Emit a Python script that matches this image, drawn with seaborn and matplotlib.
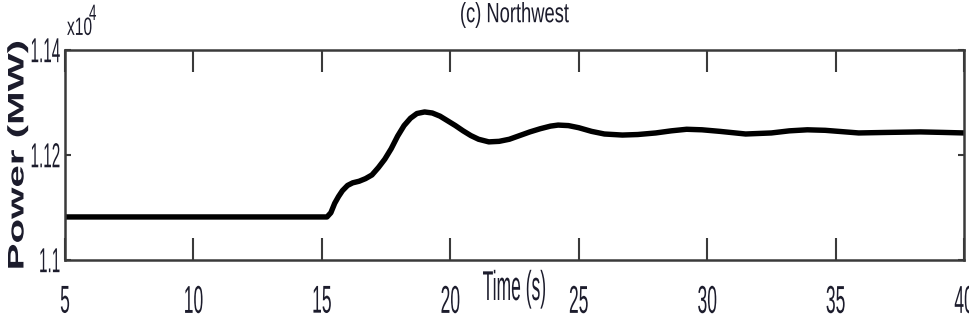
import matplotlib
matplotlib.use("Agg")
import matplotlib.pyplot as plt
from matplotlib.patheffects import AbstractPathEffect
from matplotlib.transforms import Affine2D
import numpy as np
import seaborn as sns

# Northwest area tie-line power after the disturbance (MW)
time_s = [5.0, 15.2, 15.35, 15.5, 15.65, 15.8, 16.0, 16.2, 16.45, 16.7, 16.95,
          17.2, 17.45, 17.7, 17.95, 18.2, 18.45, 18.7, 19.0, 19.3, 19.6, 19.9,
          20.2, 20.5, 20.8, 21.1, 21.5, 21.9, 22.3, 22.7, 23.1, 23.5, 23.9,
          24.2, 24.6, 25.0, 25.5, 26.0, 26.7, 27.3, 28.0, 28.6, 29.2, 29.8,
          30.5, 31.5, 32.5, 33.2, 33.9, 34.6, 35.9, 37.0, 38.3, 39.2, 40.0]
power_mw = [11082, 11082, 11090, 11108, 11121, 11132, 11142, 11147, 11150,
            11155, 11162, 11176, 11192, 11212, 11236, 11256, 11270, 11279,
            11282, 11280, 11274, 11265, 11256, 11246, 11237, 11230, 11225,
            11226, 11230, 11237, 11244, 11250, 11255, 11257, 11256, 11252,
            11245, 11240, 11238, 11239, 11242, 11246, 11249, 11248, 11245,
            11240, 11242, 11246, 11248, 11247, 11242, 11243, 11244, 11243,
            11242]

x_ticks = [5, 10, 15, 20, 25, 30, 35, 40]
x_tick_labels = ["5", "10", "15", "20", "25", "30", "35", "40"]
y_ticks = [1.10, 1.12, 1.14]
y_tick_labels = ["1.1", "1.12", "1.14"]

title_text = "(c) Northwest"
x_label = "Time (s)"
y_label = "Power (MW)"
scale_text = "x10"
scale_exp = "4"

TEXT_COLOR = "#1c1c2c"
AXIS_COLOR = "#3a3a3a"


class Stretch(AbstractPathEffect):
    """Stretch glyphs vertically (tall, condensed lettering) about an ink anchor.

    ax, ay give the fixed point as a fraction of the ink box (0 = left/bottom).
    """

    def __init__(self, sy, ay=0.5, sx=1.0, ax=0.5):
        super().__init__()
        self.sx, self.sy = sx, sy
        self.ax, self.ay = ax, ay

    def draw_path(self, renderer, gc, tpath, affine, rgbFace=None):
        ext = tpath.get_extents(affine)
        cx = ext.x0 + self.ax * (ext.x1 - ext.x0)
        cy = ext.y0 + self.ay * (ext.y1 - ext.y0)
        tr = (Affine2D().translate(-cx, -cy)
              .scale(self.sx, self.sy).translate(cx, cy))
        renderer.draw_path(gc, tpath, affine + tr, rgbFace)


sns.set_style("white")
plt.rcParams["font.family"] = ["Liberation Sans", "DejaVu Sans"]

fig = plt.figure(figsize=(9.7, 3.33), dpi=100)
ax = fig.add_axes([65 / 970, 1 - 260 / 333, 899 / 970, 210 / 333])

t = np.asarray(time_s)
p = np.asarray(power_mw) / 1e4
sns.lineplot(x=t, y=p, ax=ax, color="black", linewidth=3.9, estimator=None,
             sort=False)

ax.set_xlim(5, 40)
ax.set_ylim(1.10, 1.14)
ax.set_xticks(x_ticks, x_tick_labels)
ax.set_yticks(y_ticks, y_tick_labels)

for side in ["left", "right", "top", "bottom"]:
    ax.spines[side].set_visible(True)
    ax.spines[side].set_color(AXIS_COLOR)
    ax.spines[side].set_linewidth(1.8)

ax.tick_params(axis="x", direction="in", length=16, width=1.5, colors=AXIS_COLOR,
               top=True, bottom=True, pad=18.7, labelsize=12.6,
               labelcolor=TEXT_COLOR)
ax.tick_params(axis="y", direction="in", length=4.5, width=1.5, colors=AXIS_COLOR,
               left=True, right=True, pad=3.5, labelsize=11,
               labelcolor=TEXT_COLOR)

for lab in ax.get_xticklabels():
    lab.set_path_effects([Stretch(2.22, ay=1.0)])
for lab in ax.get_yticklabels():
    lab.set_path_effects([Stretch(2.27, ay=0.5)])

ax.set_xlabel(x_label, fontsize=12.6, color=TEXT_COLOR, va="top",
              path_effects=[Stretch(2.38, ay=1.0)])
ax.xaxis.set_label_coords(0.5, -0.05)

ax.set_ylabel(y_label, fontsize=16.2, fontweight="bold", color=TEXT_COLOR,
              va="center", path_effects=[Stretch(1.79, ay=0.5)])
ax.yaxis.set_label_coords(-0.0523, 0.5)

ax.set_title(title_text, fontsize=13.2, color=TEXT_COLOR, pad=18.6,
             path_effects=[Stretch(1.52, ay=0.0)])

fig.text(67 / 970, 1 - 35 / 333, scale_text, fontsize=11.2, color=TEXT_COLOR,
         ha="left", va="baseline", path_effects=[Stretch(1.61, ay=0.0)])
fig.text(89 / 970, 1 - 20 / 333, scale_exp, fontsize=9.6, color=TEXT_COLOR,
         ha="left", va="baseline", path_effects=[Stretch(1.67, ay=0.0)])

fig.savefig("out.png", dpi=100, facecolor="white")
